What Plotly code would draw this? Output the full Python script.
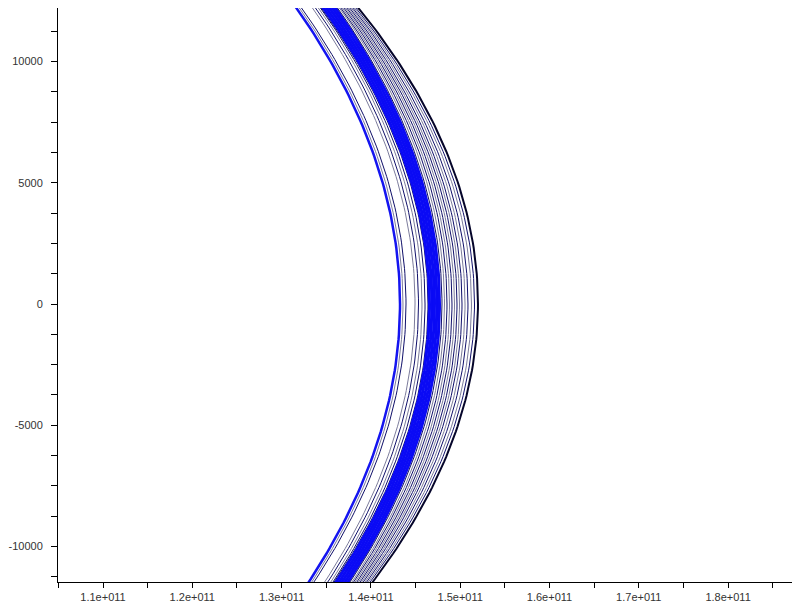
import numpy as np
import plotly.graph_objects as go

# ---- data ----
# x position of every arc at y = 0 (metres)
vertex_x = [143.26e9, 143.59e9, 143.93e9, 144.94e9, 145.33e9, 145.72e9, 146.06e9, 146.39e9,
            146.56e9, 146.84e9, 147.12e9, 147.40e9, 147.68e9,
            147.96e9, 148.24e9, 148.52e9, 148.80e9, 149.08e9, 149.36e9, 149.64e9, 149.92e9,
            150.20e9, 150.54e9, 150.87e9, 151.26e9, 151.60e9, 151.99e9]
# how far each arc has bent back toward smaller x at |y| = 12000 (metres)
bend_x = [11.19e9, 11.19e9, 11.29e9, 11.08e9, 11.13e9, 11.19e9, 11.29e9, 11.51e9,
          11.46e9, 11.40e9, 11.35e9, 11.29e9, 11.24e9,
          11.29e9, 11.35e9, 11.46e9, 11.57e9, 11.67e9, 11.78e9, 11.89e9, 12.00e9,
          12.11e9, 12.27e9, 12.43e9, 12.65e9, 12.81e9, 12.92e9]
# colour family of each arc
arc_kind = ["blue", "gray", "navy", "gray", "navy", "gray", "navy", "navy",
            "band", "band", "band", "band", "band",
            "navy", "gray", "navy", "gray", "navy", "gray", "navy", "gray",
            "navy", "gray", "navy", "gray", "navy", "black"]

x_tick_vals = [1.1e11, 1.2e11, 1.3e11, 1.4e11, 1.5e11, 1.6e11, 1.7e11, 1.8e11]
x_tick_text = ["1.1e+011", "1.2e+011", "1.3e+011", "1.4e+011", "1.5e+011",
               "1.6e+011", "1.7e+011", "1.8e+011"]
y_tick_vals = [-10000, -5000, 0, 5000, 10000]
y_tick_text = ["-10000", "-5000", "0", "5000", "10000"]

# ---- styles ----
style = {
    "blue": dict(color="#1414f0", width=2.5),
    "gray": dict(color="#7c7c9c", width=1),
    "navy": dict(color="#10106a", width=1),
    "band": dict(color="#0a0af5", width=3),
    "black": dict(color="#05052a", width=2),
}

y_grid = np.linspace(-12600, 12600, 121)

fig = go.Figure()
for vx, bx, kind in zip(vertex_x, bend_x, arc_kind):
    xs = vx - bx * (y_grid / 12000.0) ** 2
    fig.add_trace(go.Scatter(x=xs, y=y_grid, mode="lines", line=style[kind],
                             hoverinfo="skip", showlegend=False))

axis_font = dict(family="Liberation Sans, Arial, sans-serif", size=11, color="#333333")

# the page adds an 8 px body margin, so the figure is 8 px smaller on each axis
fig.update_layout(
    width=792, height=602,
    margin=dict(l=50, r=0, t=0, b=28, autoexpand=False),
    paper_bgcolor="white", plot_bgcolor="white",
    showlegend=False,
)
fig.update_xaxes(
    range=[1.0496e11, 1.8805e11], automargin=False,
    showgrid=False, zeroline=False,
    showline=True, linecolor="black", linewidth=1, mirror=False,
    tickmode="array", tickvals=x_tick_vals, ticktext=x_tick_text,
    ticks="outside", ticklen=5, tickcolor="black", tickwidth=1,
    minor=dict(tickmode="linear", tick0=1.05e11, dtick=1e10, ticks="outside",
               ticklen=5, tickcolor="black", tickwidth=1, showgrid=False),
    tickfont=axis_font,
)
fig.update_yaxes(
    range=[-11464, 12206], automargin=False,
    showgrid=False, zeroline=False,
    showline=True, linecolor="black", linewidth=1, mirror=False,
    tickmode="array", tickvals=y_tick_vals, ticktext=y_tick_text,
    ticks="outside", ticklen=6, tickcolor="black", tickwidth=1,
    minor=dict(tickmode="linear", tick0=0, dtick=1250, ticks="outside",
               ticklen=6, tickcolor="black", tickwidth=1, showgrid=False),
    tickfont=axis_font, ticklabelstandoff=6,
)

fig.write_html("out.html")
